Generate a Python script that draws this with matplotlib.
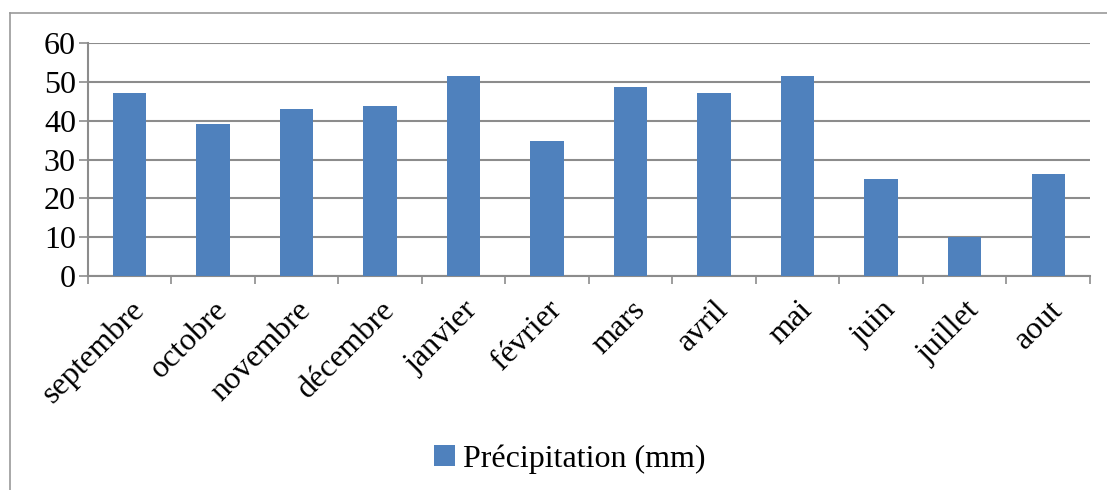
import matplotlib
matplotlib.use("Agg")
import matplotlib.pyplot as plt
from matplotlib.lines import Line2D
from matplotlib.patches import Patch
import numpy as np

# monthly rainfall
mois = ["septembre", "octobre", "novembre", "décembre", "janvier", "février",
        "mars", "avril", "mai", "juin", "juillet", "aout"]
precip = [47.2, 39.2, 43.1, 43.8, 51.6, 34.8, 48.7, 47.2, 51.6, 25.0, 10.1, 26.3]
yticks = [0, 10, 20, 30, 40, 50, 60]

plt.rcParams['font.family'] = ['Liberation Serif', 'DejaVu Serif']

W, H = 1107, 490
fig = plt.figure(figsize=(W / 100, H / 100), dpi=100)
ax = fig.add_axes([87.7 / W, 1 - 276 / H, (1090 - 87.7) / W, (276 - 43.3) / H])

grid_col = "#8c8c8c"
bar_col = "#4F81BD"
x = np.arange(len(mois))

ax.bar(x, precip, width=0.4, color=bar_col, zorder=3)

ax.set_xlim(-0.5, len(mois) - 0.5)
ax.set_ylim(0, 60)
ax.set_yticks(yticks)
ax.yaxis.grid(True, color=grid_col, lw=1.5, zorder=0)
ax.tick_params(axis='y', length=6.5, width=1.2, color=grid_col, labelsize=23, pad=2)

# category labels centred, ticks at boundaries
ax.set_xticks(x)
ax.set_xticklabels(mois, rotation=45, ha='right', va='top', rotation_mode='anchor', fontsize=23)
ax.tick_params(axis='x', which='major', length=0, pad=14)
ax.set_xticks(np.arange(len(mois) + 1) - 0.5, minor=True)
ax.tick_params(axis='x', which='minor', length=6, width=1.2, color=grid_col)

for s in ['top', 'right']:
    ax.spines[s].set_visible(False)
for s in ['left', 'bottom']:
    ax.spines[s].set_color(grid_col)
    ax.spines[s].set_linewidth(1.5)

# outer chart frame
fx = 10 / W
fy = 1 - 13 / H
fig.add_artist(Line2D([fx, fx], [0, fy], transform=fig.transFigure, color="#999999", lw=1.2))
fig.add_artist(Line2D([fx, 1], [fy, fy], transform=fig.transFigure, color="#999999", lw=1.2))

handle = Patch(facecolor=bar_col, edgecolor='none')
fig.legend([handle], ["Précipitation (mm)"], loc='center', bbox_to_anchor=(570 / W, 1 - 459 / H),
           frameon=False, fontsize=23, handlelength=0.65, handleheight=0.65, handletextpad=0.25)

fig.savefig("out.png", dpi=100)
